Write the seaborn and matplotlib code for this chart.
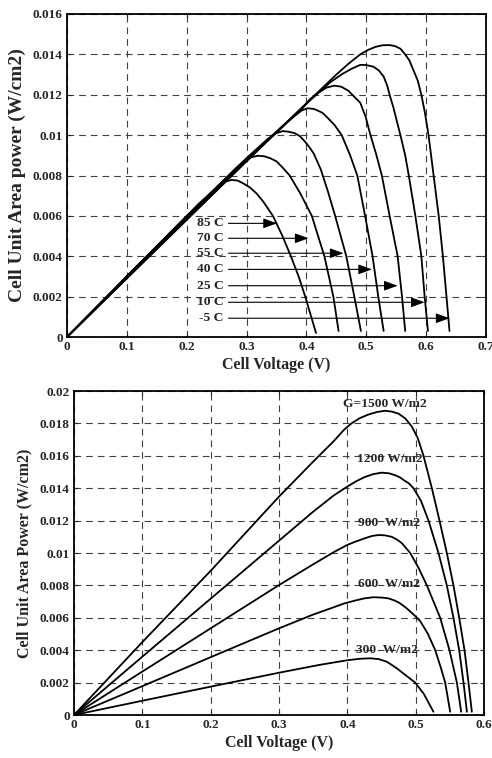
import numpy as np
import pandas as pd
import seaborn as sns
import matplotlib
matplotlib.use("Agg")
import matplotlib.pyplot as plt

# ---------------- Data: top plot (temperature) ----------------
temp_names = ["-5 C", "10 C", "25 C", "40 C", "55 C", "70 C", "85 C"]

v_m5 = [0, 0.1, 0.2, 0.3, 0.4, 0.45, 0.47, 0.49, 0.503, 0.515, 0.527, 0.539, 0.548, 0.557, 0.565, 0.572,
        0.579, 0.586, 0.592, 0.598, 0.604, 0.6125, 0.621, 0.628, 0.634, 0.639]
p_m5 = [0, 0.0029, 0.0058, 0.0087, 0.01158, 0.0130, 0.01353, 0.0140, 0.01422, 0.01437, 0.01445, 0.01446,
        0.01441, 0.01428, 0.0140, 0.0137, 0.0132, 0.0127, 0.0120, 0.0111, 0.0100, 0.0080, 0.0060, 0.0040,
        0.0020, 0.0003]

v_10 = [0, 0.1, 0.2, 0.3, 0.38, 0.42, 0.44, 0.46, 0.475, 0.49, 0.50, 0.512, 0.521, 0.529, 0.535, 0.539,
        0.545, 0.551, 0.557, 0.565, 0.571, 0.582, 0.592, 0.5975, 0.603]
p_10 = [0, 0.00292, 0.00584, 0.00874, 0.0110, 0.0121, 0.01262, 0.01303, 0.01328, 0.01348, 0.01347, 0.01339,
        0.0132, 0.0129, 0.01245, 0.0120, 0.0114, 0.0107, 0.0100, 0.0090, 0.0080, 0.0060, 0.0040, 0.0020,
        0.0003]

v_25 = [0, 0.1, 0.2, 0.3, 0.36, 0.39, 0.405, 0.42, 0.434, 0.4467, 0.458, 0.47, 0.48, 0.49, 0.499, 0.507,
        0.517, 0.526, 0.539, 0.5524, 0.5597, 0.565]
p_25 = [0, 0.00294, 0.00588, 0.0088, 0.01045, 0.0112, 0.01175, 0.0121, 0.01236, 0.01245, 0.0124, 0.0122,
        0.0119, 0.0116, 0.0109, 0.0100, 0.0090, 0.0080, 0.0060, 0.0040, 0.0020, 0.0003]

v_40 = [0, 0.1, 0.2, 0.3, 0.33, 0.36, 0.372, 0.382, 0.392, 0.402, 0.412, 0.42, 0.427, 0.434, 0.447, 0.459,
        0.473, 0.485, 0.498, 0.5105, 0.520, 0.529]
p_40 = [0, 0.00296, 0.00592, 0.00885, 0.0096, 0.0104, 0.01075, 0.0110, 0.01122, 0.01133, 0.0113, 0.0112,
        0.0111, 0.0109, 0.0105, 0.0100, 0.0090, 0.0080, 0.0060, 0.0040, 0.0020, 0.0003]

v_55 = [0, 0.1, 0.2, 0.28, 0.32, 0.335, 0.348, 0.3605, 0.37, 0.38, 0.389, 0.397, 0.405, 0.412, 0.424,
        0.436, 0.448, 0.4666, 0.48, 0.491]
p_55 = [0, 0.00298, 0.00596, 0.0083, 0.0094, 0.0098, 0.01008, 0.0102, 0.01017, 0.0101, 0.00995, 0.0097,
        0.0094, 0.0091, 0.0083, 0.0072, 0.0060, 0.0040, 0.0020, 0.0003]

v_70 = [0, 0.1, 0.2, 0.26, 0.28, 0.295, 0.307, 0.319, 0.33, 0.34, 0.35, 0.36, 0.366, 0.372, 0.39, 0.409,
        0.43, 0.445, 0.4537]
p_70 = [0, 0.0030, 0.0060, 0.0077, 0.0082, 0.00865, 0.0089, 0.00898, 0.00895, 0.00885, 0.0087, 0.0084,
        0.0082, 0.0080, 0.0071, 0.0060, 0.0040, 0.0020, 0.0003]

v_85 = [0, 0.1, 0.2, 0.22, 0.24, 0.255, 0.265, 0.275, 0.285, 0.295, 0.306, 0.317, 0.328, 0.344, 0.36,
        0.374, 0.387, 0.398, 0.408, 0.416]
p_85 = [0, 0.00302, 0.00598, 0.0066, 0.0071, 0.0075, 0.0077, 0.00778, 0.00775, 0.0076, 0.0074, 0.0071,
        0.0067, 0.0060, 0.0050, 0.0040, 0.0030, 0.0020, 0.0010, 0.0002]

# arrow labels (top plot)
arrow_labels = ["85 C", "70 C", "55 C", "40 C", "25 C", "10 C", "-5 C"]
arrow_p = [0.00563, 0.00489, 0.00415, 0.00335, 0.00254, 0.00172, 0.00093]
arrow_tip_v = [0.3507, 0.4035, 0.462, 0.5095, 0.5524, 0.5975, 0.639]
arrow_text_v = 0.262

top_xticks = [0, 0.1, 0.2, 0.3, 0.4, 0.5, 0.6, 0.7]
top_xticklabels = ["0", "0.1", "0.2", "0.3", "0.4", "0.5", "0.6", "0.7"]
top_yticks = [0, 0.002, 0.004, 0.006, 0.008, 0.010, 0.012, 0.014, 0.016]
top_yticklabels = ["0", "0.002", "0.004", "0.006", "0.008", "0.01", "0.012", "0.014", "0.016"]

# ---------------- Data: bottom plot (irradiance) ----------------
irr_names = ["1500", "1200", "900", "600", "300"]

v_1500 = [0, 0.1, 0.2, 0.3, 0.35, 0.38, 0.395, 0.406, 0.418, 0.431, 0.443, 0.4553, 0.465, 0.475, 0.485,
          0.4944, 0.503, 0.5115, 0.5237, 0.5349, 0.5456, 0.5553, 0.5637, 0.5715, 0.5773, 0.5822]
p_1500 = [0, 0.0045, 0.0089, 0.01348, 0.01564, 0.0169, 0.0176, 0.0180, 0.01832, 0.01855, 0.0187, 0.01878,
          0.01873, 0.0186, 0.0183, 0.0178, 0.0171, 0.0160, 0.0140, 0.0120, 0.0100, 0.0080, 0.0060, 0.0040,
          0.0020, 0.0002]

v_1200 = [0, 0.1, 0.2, 0.3, 0.35, 0.38, 0.4, 0.413, 0.425, 0.438, 0.4505, 0.461, 0.47, 0.477, 0.4825,
          0.49, 0.4968, 0.508, 0.5188, 0.5334, 0.5456, 0.5553, 0.5637, 0.570, 0.575]
p_1200 = [0, 0.0036, 0.00718, 0.01076, 0.01255, 0.01355, 0.0141, 0.01443, 0.01468, 0.01487, 0.01496,
          0.01492, 0.0148, 0.01467, 0.0145, 0.0143, 0.0140, 0.0132, 0.0120, 0.0100, 0.0080, 0.0060, 0.0040,
          0.0020, 0.0002]

v_900 = [0, 0.1, 0.2, 0.3, 0.35, 0.38, 0.4, 0.413, 0.425, 0.436, 0.4455, 0.455, 0.465, 0.473, 0.48,
         0.486, 0.492, 0.504, 0.5164, 0.5359, 0.5495, 0.5603, 0.5666]
p_900 = [0, 0.00268, 0.00535, 0.00802, 0.0093, 0.01005, 0.0105, 0.01072, 0.0109, 0.01105, 0.01111, 0.01109,
         0.0110, 0.01082, 0.0106, 0.0103, 0.0100, 0.0091, 0.0080, 0.0060, 0.0040, 0.0020, 0.0002]

v_600 = [0, 0.1, 0.2, 0.3, 0.35, 0.38, 0.395, 0.41, 0.425, 0.4383, 0.45, 0.46, 0.469, 0.477, 0.487, 0.497,
         0.5066, 0.518, 0.5286, 0.537, 0.5432, 0.5505]
p_600 = [0, 0.00178, 0.00357, 0.00535, 0.0062, 0.00665, 0.00688, 0.00705, 0.0072, 0.00727, 0.00725, 0.0072,
         0.00707, 0.0069, 0.00658, 0.0062, 0.0058, 0.0050, 0.0040, 0.0029, 0.0020, 0.0002]

v_300 = [0, 0.1, 0.2, 0.3, 0.36, 0.4, 0.418, 0.4334, 0.446, 0.4578, 0.4725, 0.487, 0.4993, 0.512, 0.526]
p_300 = [0, 0.00088, 0.00175, 0.00261, 0.0031, 0.00338, 0.00347, 0.0035, 0.00345, 0.00329, 0.00288,
         0.0024, 0.0020, 0.0013, 0.0002]

irr_labels = ["G=1500 W/m2", "1200 W/m2", "900  W/m2", "600  W/m2", "300  W/m2"]
irr_label_v = [0.394, 0.414, 0.415, 0.415, 0.413]
irr_label_p = [0.0192, 0.0158, 0.01183, 0.0081, 0.0040]

bot_xticks = [0, 0.1, 0.2, 0.3, 0.4, 0.5, 0.6]
bot_xticklabels = ["0", "0.1", "0.2", "0.3", "0.4", "0.5", "0.6"]
bot_yticks = [0, 0.002, 0.004, 0.006, 0.008, 0.010, 0.012, 0.014, 0.016, 0.018, 0.020]
bot_yticklabels = ["0", "0.002", "0.004", "0.006", "0.008", "0.01", "0.012", "0.014", "0.016", "0.018", "0.02"]

# ---------------- Build tables ----------------
top_series = [(temp_names[0], v_m5, p_m5), (temp_names[1], v_10, p_10), (temp_names[2], v_25, p_25),
              (temp_names[3], v_40, p_40), (temp_names[4], v_55, p_55), (temp_names[5], v_70, p_70),
              (temp_names[6], v_85, p_85)]
df_top = pd.concat([pd.DataFrame({"V": v, "P": p, "T": n}) for n, v, p in top_series], ignore_index=True)

bot_series = [(irr_names[0], v_1500, p_1500), (irr_names[1], v_1200, p_1200), (irr_names[2], v_900, p_900),
              (irr_names[3], v_600, p_600), (irr_names[4], v_300, p_300)]
df_bot = pd.concat([pd.DataFrame({"V": v, "P": p, "G": n}) for n, v, p in bot_series], ignore_index=True)

# ---------------- Style ----------------
sns.set_style("ticks")
plt.rcParams["font.family"] = ["Liberation Serif", "DejaVu Serif"]
plt.rcParams["font.weight"] = "bold"
plt.rcParams["axes.labelweight"] = "bold"
plt.rcParams["lines.solid_joinstyle"] = "round"

fig = plt.figure(figsize=(4.92, 7.58), dpi=100)
ax1 = fig.add_axes([67 / 492, (758 - 337) / 758, (486 - 67) / 492, (337 - 14) / 758])
ax2 = fig.add_axes([74 / 492, (758 - 715) / 758, (484 - 74) / 492, (715 - 391) / 758])

line_kw = dict(estimator=None, sort=False, legend=False, linewidth=1.3)

sns.lineplot(data=df_top, x="V", y="P", hue="T", units="T", palette=["black"] * len(temp_names), ax=ax1, **line_kw)
sns.lineplot(data=df_bot, x="V", y="P", hue="G", units="G", palette=["black"] * len(irr_names), ax=ax2, **line_kw)

grid_kw = dict(color="0.25", linestyle=(0, (6, 4.5)), linewidth=0.8)


def style_axes(ax, xticks, xlabels, yticks, ylabels, xlim, ylim, xlab, ylab, ylab_size, ylabpad):
    ax.set_xlim(*xlim)
    ax.set_ylim(*ylim)
    ax.set_xticks(xticks, xlabels)
    ax.set_yticks(yticks, ylabels)
    ax.grid(True, **grid_kw)
    ax.set_axisbelow(True)
    for s in ax.spines.values():
        s.set_visible(True)
        s.set_linewidth(1.3)
        s.set_color("black")
    ax.tick_params(direction="in", length=3, width=0.8, top=True, right=True,
                   labelsize=9.5, pad=3)
    for lab in ax.get_xticklabels() + ax.get_yticklabels():
        lab.set_fontweight("bold")
    ax.set_xlabel(xlab, fontsize=11.5, fontweight="bold", labelpad=3)
    ax.set_ylabel(ylab, fontsize=ylab_size, fontweight="bold", labelpad=ylabpad)


style_axes(ax1, top_xticks, top_xticklabels, top_yticks, top_yticklabels, (0, 0.7), (0, 0.016),
           "Cell Voltage (V)", "Cell Unit Area power (W/cm2)", 14, 5)
style_axes(ax2, bot_xticks, bot_xticklabels, bot_yticks, bot_yticklabels, (0, 0.6), (0, 0.02),
           "Cell Voltage (V)", "Cell Unit Area Power (W/cm2)", 11.5, 5)

# Arrows with temperature labels
for lab, p, tip in zip(arrow_labels, arrow_p, arrow_tip_v):
    ax1.annotate(lab, xy=(tip, p), xytext=(arrow_text_v, p), ha="right", va="center",
                 fontsize=9.7, fontweight="bold",
                 arrowprops=dict(arrowstyle="-|>,head_length=0.55,head_width=0.2", color="black",
                                 lw=0.8, mutation_scale=15, shrinkA=1, shrinkB=0))

# Irradiance labels
for lab, v, p in zip(irr_labels, irr_label_v, irr_label_p):
    ax2.text(v, p, lab, ha="left", va="center", fontsize=9.7, fontweight="bold")

fig.savefig("out.png", dpi=100)
